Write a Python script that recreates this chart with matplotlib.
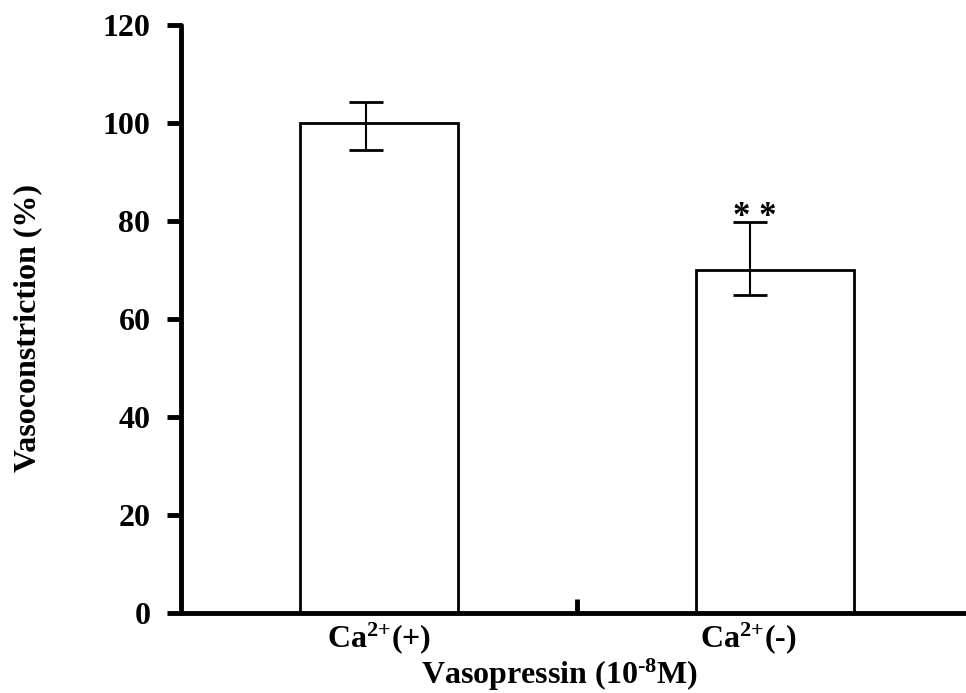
import matplotlib
matplotlib.use("Agg")
import matplotlib.pyplot as plt
import numpy as np

categories = [r"Ca$^{\text{2+}}$(+)", r"Ca$^{\text{2+}}$(-)"]
values = [100, 70]
err_upper = [4.3, 9.7]
err_lower = [5.5, 5.0]
significance = ["", "* *"]
y_ticks = [0, 20, 40, 60, 80, 100, 120]

plt.rcParams['font.family'] = ['Liberation Serif', 'DejaVu Serif']
plt.rcParams['font.weight'] = 'bold'
plt.rcParams['mathtext.fontset'] = 'custom'
plt.rcParams['mathtext.rm'] = 'Liberation Serif:bold'
plt.rcParams['mathtext.bf'] = 'Liberation Serif:bold'
plt.rcParams['mathtext.it'] = 'Liberation Serif:bold'
plt.rcParams['mathtext.default'] = 'rm'

FS = 23

fig = plt.figure(figsize=(9.66, 6.93), dpi=100)
ax = fig.add_axes([181/966, 80/693, 792/966, 588/693])

x = np.arange(len(values))
ax.bar(x, values, width=0.4, color='white', edgecolor='black', linewidth=2.0, zorder=2)

# error bars (drawn slightly left of bar centres as in the original)
err_off = [-0.033, -0.062]
ex = x + np.array(err_off)
ax.errorbar(ex, values, yerr=[err_lower, err_upper], fmt='none', ecolor='black',
            elinewidth=1.5, capsize=12, capthick=2.0, zorder=3)

for xi, v, eu, s in zip(ex, values, err_upper, significance):
    if s:
        ax.text(xi + 0.012, v + eu - 0.8, s, ha='center', va='baseline', fontsize=25,
                fontweight='bold')

ax.set_xlim(-0.5, 1.5)
ax.set_ylim(0, 120)
ax.set_yticks(y_ticks)
ax.set_yticklabels([str(t) for t in y_ticks], fontsize=FS, fontweight='bold')

label_off = [0.0, -0.068]
ax.set_xticks(x + np.array(label_off))
ax.set_xticklabels(categories, fontsize=FS, fontweight='bold')
ax.set_xticks([0.5], minor=True)
ax.tick_params(axis='x', which='major', length=0, pad=5)
ax.tick_params(axis='x', which='minor', direction='in', length=10, width=3.5)
ax.tick_params(axis='y', direction='out', length=10, width=3.5, pad=12)

for s in ['top', 'right']:
    ax.spines[s].set_visible(False)
for s in ['left', 'bottom']:
    ax.spines[s].set_linewidth(3.5)
    ax.spines[s].set_capstyle('round')

ax.set_ylabel('Vasoconstriction (%)', fontsize=FS, fontweight='bold')
ax.yaxis.set_label_coords(-0.1755, 0.485)
ax.set_xlabel(r'Vasopressin (10$^{\text{-8}}$M)', fontsize=FS, fontweight='bold')
ax.xaxis.set_label_coords(0.4785, -0.075)

fig.savefig('out.png', dpi=100)
